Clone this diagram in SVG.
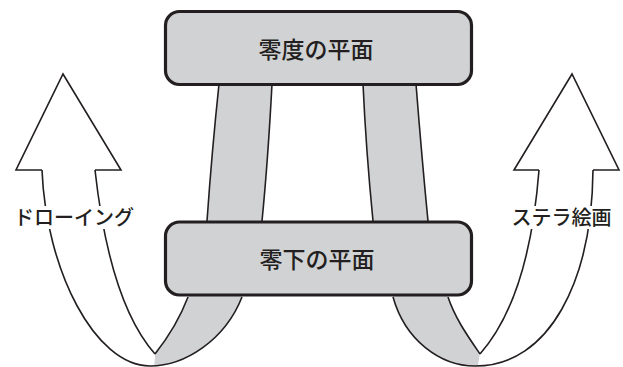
<svg xmlns="http://www.w3.org/2000/svg" width="623" height="367" viewBox="0 0 623 367">
<style>
.band{fill:#d1d2d4;stroke:none}
.line{fill:none;stroke:#231f20;stroke-width:1.6;stroke-linejoin:miter}
.arrowfill{fill:#fff;stroke:none}
.box{fill:#d1d2d4;stroke:#231f20;stroke-width:3.2}
.boxtext{font-family:"Noto Sans CJK JP","Noto Sans",sans-serif;font-size:23px;font-weight:500;fill:#231f20;text-anchor:middle}
.label{font-family:"Noto Sans CJK JP","Noto Sans",sans-serif;font-size:20px;font-weight:500;fill:#231f20;text-anchor:middle}
.halo{fill:#fff}
</style>
<rect width="623" height="367" fill="#fff"/>
<g id="connectors">
  <path class="band" d="M219,84 L272,84 Q268,160 262,221 Q256,265 242,297 C225,340 185,366 150,366 L154,366 L155,354 C170,335 180,318 188,297 Q200,260 207,221 Q212,150 219,84 Z"/>
  <path class="band" d="M363,84 L416,84 Q422,160 428,221 Q437,265 448,297 C455,318 467,335 480,354 L478,366 L475,366 C440,366 405,340 393,297 Q380,260 373,221 Q366,150 363,84 Z"/>
  <path class="line" d="M219,84 Q212,150 207,221"/>
  <path class="line" d="M272,84 Q268,160 262,221"/>
  <path class="line" d="M188,297 C180,318 170,335 155,354"/>
  <path class="line" d="M363,84 Q366,150 373,221"/>
  <path class="line" d="M416,84 Q422,160 428,221"/>
  <path class="line" d="M448,297 C455,318 467,335 480,354"/>
</g>
<g id="arrow-left">
  <path class="arrowfill" d="M63,74 L121,170 L95,170 C105,260 125,320 155,354 L154,366 L150,366 C95,366 46,270 42,170 L16,170 Z"/>
  <path class="line" d="M95,170 L121,170 L63,74 L16,170 L42,170"/>
  <path class="line" d="M95,170 C105,260 125,320 155,354"/>
  <path class="line" d="M42,170 C46,270 95,366 150,366 C185,366 225,340 242,297"/>
  <rect class="halo" x="12" y="206" width="124" height="23"/>
  <text class="label" x="74" y="225">ドローイング</text>
</g>
<g id="arrow-right">
  <path class="arrowfill" d="M572,74 L619,170 L593,170 C592,280 550,366 475,366 L478,366 L480,354 C510,320 532,260 539,170 L514,170 Z"/>
  <path class="line" d="M539,170 L514,170 L572,74 L619,170 L593,170"/>
  <path class="line" d="M539,170 C532,260 510,320 480,354"/>
  <path class="line" d="M593,170 C592,280 550,366 475,366 C440,366 405,340 393,297"/>
  <rect class="halo" x="508" y="206" width="108" height="23"/>
  <text class="label" x="561.5" y="225">ステラ絵画</text>
</g>
<g id="node-top">
  <rect class="box" x="165.5" y="11.5" width="306" height="73" rx="14"/>
  <text class="boxtext" x="316" y="58">零度の平面</text>
</g>
<g id="node-bottom">
  <rect class="box" x="165.5" y="222" width="306" height="73" rx="14"/>
  <text class="boxtext" x="317" y="268">零下の平面</text>
</g>
</svg>
